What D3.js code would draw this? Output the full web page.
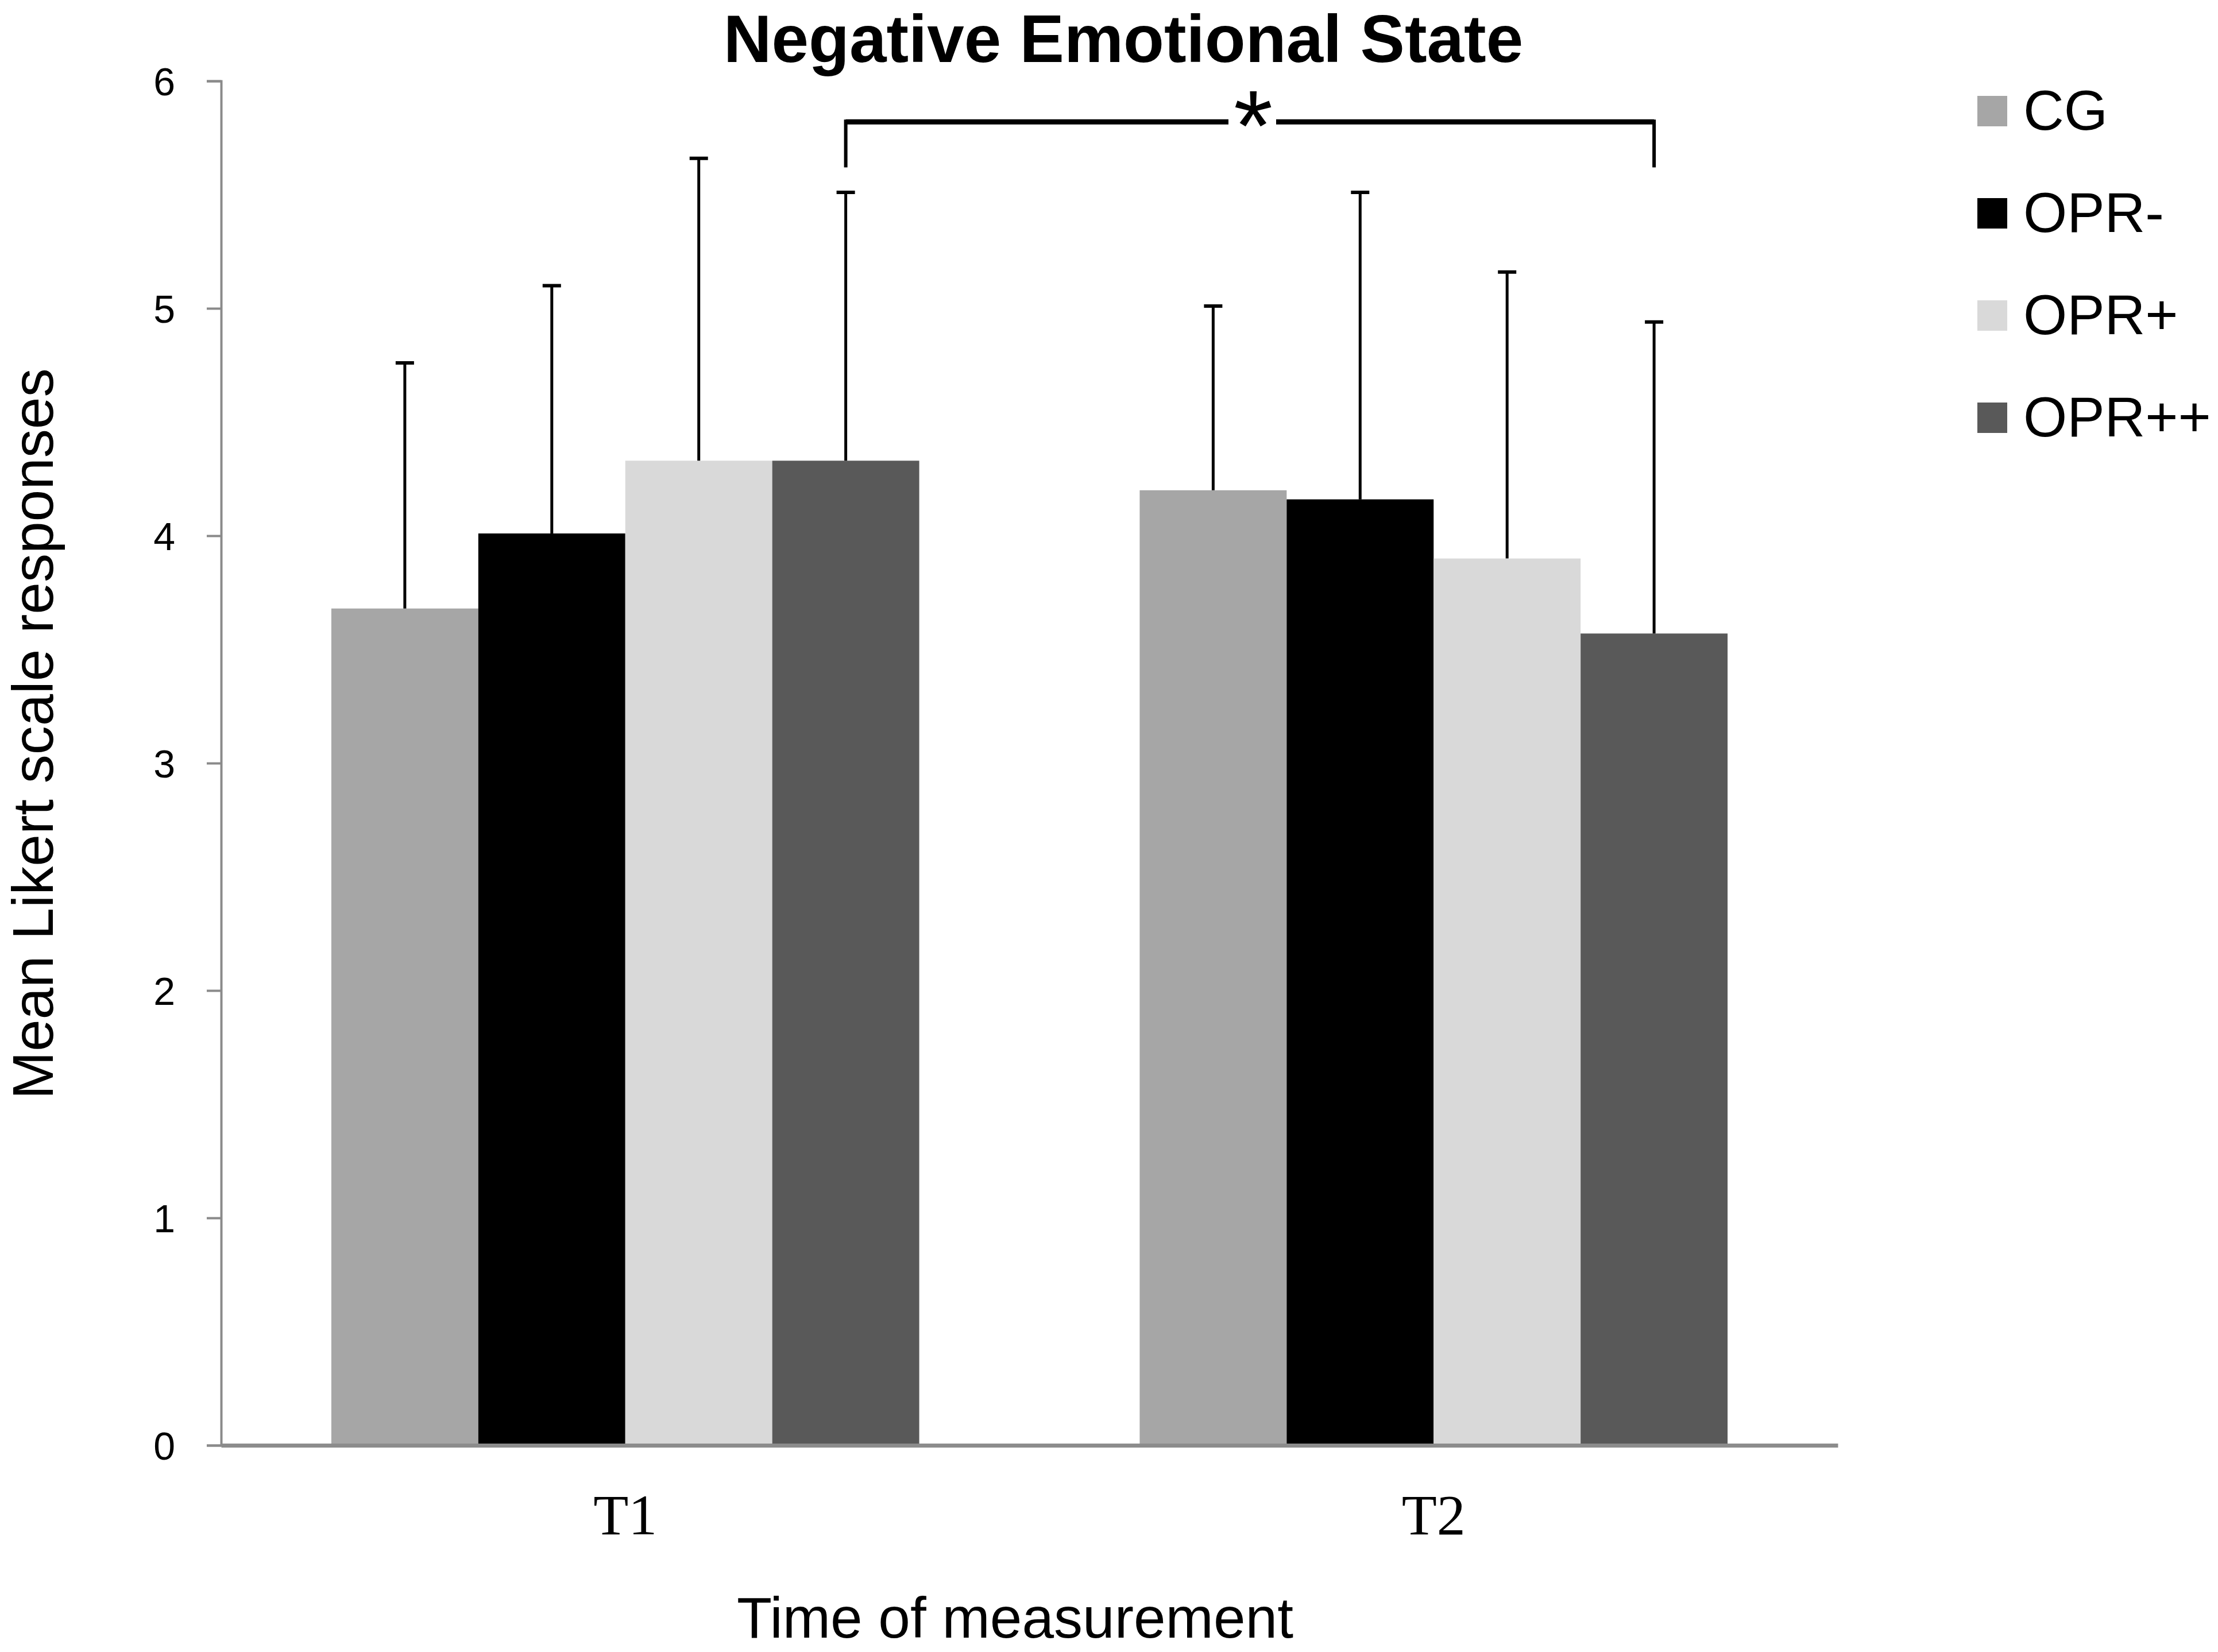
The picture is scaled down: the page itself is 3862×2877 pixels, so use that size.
<!DOCTYPE html>
<html>
<head>
<meta charset="utf-8">
<script src="https://cdn.jsdelivr.net/npm/d3@7"></script>
<style>
  html, body { margin: 0; padding: 0; background: #ffffff; }
  svg { display: block; }
</style>
</head>
<body>
<svg id="chart" width="3862" height="2877"></svg>
<script>
// ---- data ----
const categories = ["T1", "T2"];
const seriesNames = ["CG", "OPR-", "OPR+", "OPR++"];
const seriesColors = ["#a6a6a6", "#000000", "#d9d9d9", "#595959"];
const meansT1 = [3.68, 4.01, 4.33, 4.33];
const meansT2 = [4.20, 4.16, 3.90, 3.57];
const sdT1 = [1.08, 1.09, 1.33, 1.18];
const sdT2 = [0.81, 1.35, 1.26, 1.37];
const yTicks = [0, 1, 2, 3, 4, 5, 6];
const titleText = "Negative Emotional State";
const xTitleText = "Time of measurement";
const yTitleText = "Mean Likert scale responses";
const sigBracket = { from: ["T1", "OPR++"], to: ["T2", "OPR++"], level: 5.82, foot: 5.62, label: "*" };

const means = { T1: meansT1, T2: meansT2 };
const sds = { T1: sdT1, T2: sdT2 };
const rows = [];
categories.forEach(c => seriesNames.forEach((s, i) => rows.push({ cat: c, series: s, i, mean: means[c][i], sd: sds[c][i] })));

// ---- layout ----
const svg = d3.select("#chart");
const plotLeft = 385, plotRight = 3200, plotTop = 141, plotBottom = 2517;

const y = d3.scaleLinear().domain([0, 6]).range([plotBottom, plotTop]);
const x0 = d3.scaleBand().domain(categories).range([plotLeft, plotRight]).paddingInner(0).paddingOuter(0);
const x1 = d3.scaleBand().domain(seriesNames).range([0, x0.bandwidth()]).paddingInner(0).paddingOuter(0.75);
const color = d3.scaleOrdinal().domain(seriesNames).range(seriesColors);

// ---- bars ----
svg.append("g").selectAll("rect").data(rows).join("rect")
  .attr("x", d => x0(d.cat) + x1(d.series))
  .attr("width", x1.bandwidth())
  .attr("y", d => y(d.mean))
  .attr("height", d => y(0) - y(d.mean))
  .attr("fill", d => color(d.series));

// ---- error bars (upper only) ----
const eb = svg.append("g").attr("stroke", "#000").attr("stroke-width", 5);
const capW = 32;
rows.forEach(d => {
  const cx = x0(d.cat) + x1(d.series) + x1.bandwidth() / 2;
  eb.append("line").attr("x1", cx).attr("x2", cx).attr("y1", y(d.mean)).attr("y2", y(d.mean + d.sd));
  eb.append("line").attr("x1", cx - capW / 2).attr("x2", cx + capW / 2).attr("y1", y(d.mean + d.sd)).attr("y2", y(d.mean + d.sd)).attr("stroke-width", 6);
});

// ---- y axis ----
const yAxis = d3.axisLeft(y).tickValues(yTicks).tickSize(25).tickPadding(55).tickFormat(d3.format("d"));
const gy = svg.append("g").attr("transform", `translate(${plotLeft},0)`).call(yAxis);
gy.select(".domain").attr("stroke", "#8a8a8a").attr("stroke-width", 4);
gy.selectAll(".tick line").attr("stroke", "#8a8a8a").attr("stroke-width", 4);
gy.selectAll(".tick text").attr("font-family", "'Liberation Sans', Arial, sans-serif")
  .attr("font-size", 68).attr("fill", "#000").attr("dy", "0.36em");

// ---- x axis ----
const xAxis = d3.axisBottom(x0).tickSize(0).tickPadding(0);
const gx = svg.append("g").attr("transform", `translate(0,${plotBottom})`).call(xAxis);
gx.select(".domain").attr("stroke", "#8c8c8c").attr("stroke-width", 7);
gx.selectAll(".tick text").attr("font-family", "'Liberation Serif', 'Times New Roman', serif")
  .attr("font-size", 100).attr("fill", "#000").attr("y", 155).attr("dy", 0);

// ---- titles ----
svg.append("text").attr("x", 1956).attr("y", 108).attr("text-anchor", "middle")
  .attr("font-family", "'Liberation Sans', Arial, sans-serif").attr("font-weight", "bold")
  .attr("font-size", 116).text(titleText);
svg.append("text").attr("x", (plotLeft + plotRight) / 2 - 25).attr("y", 2852).attr("text-anchor", "middle")
  .attr("font-family", "'Liberation Sans', Arial, sans-serif").attr("font-size", 100).text(xTitleText);
svg.append("text").attr("transform", "translate(92,1278) rotate(-90)").attr("text-anchor", "middle")
  .attr("font-family", "'Liberation Sans', Arial, sans-serif").attr("font-size", 100).text(yTitleText);

// ---- significance bracket ----
const bx1 = x0(sigBracket.from[0]) + x1(sigBracket.from[1]) + x1.bandwidth() / 2;
const bx2 = x0(sigBracket.to[0]) + x1(sigBracket.to[1]) + x1.bandwidth() / 2;
const by = y(sigBracket.level), bfoot = y(sigBracket.foot);
const star = svg.append("text").attr("x", 2182).attr("y", 0).attr("text-anchor", "middle")
  .attr("font-family", "'Liberation Sans', Arial, sans-serif").attr("font-size", 175).text(sigBracket.label);
const bb = star.node().getBBox();
star.attr("y", by - (bb.y + bb.height / 2) + 6);
const gapL = 2139, gapR = 2222;
const br = svg.append("g").attr("stroke", "#000").attr("fill", "none");
br.append("path").attr("stroke-width", 9).attr("d", `M${bx1},${by}H${gapL}M${gapR},${by}H${bx2}`);
br.append("path").attr("stroke-width", 6).attr("d", `M${bx1},${by - 4}V${bfoot}M${bx2},${by - 4}V${bfoot}`);

// ---- legend ----
const leg = svg.append("g").attr("transform", "translate(3443,167)");
seriesNames.forEach((s, i) => {
  const g = leg.append("g").attr("transform", `translate(0,${i * 178})`);
  g.append("rect").attr("width", 52).attr("height", 53).attr("fill", color(s));
  g.append("text").attr("x", 80).attr("y", 59).attr("font-family", "'Liberation Sans', Arial, sans-serif")
    .attr("font-size", 98).text(s);
});
</script>
</body>
</html>
